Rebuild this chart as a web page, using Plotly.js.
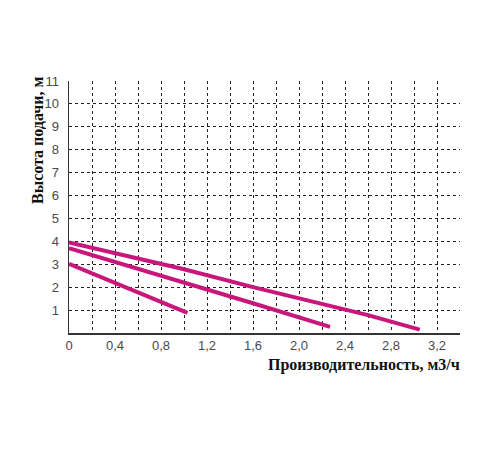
<!DOCTYPE html>
<html>
<head>
<meta charset="utf-8">
<script src="https://cdn.plot.ly/plotly-3.0.1.min.js"></script>
<style>
  body { margin: 0; background: #fff; }
  #chart { width: 500px; height: 450px; }
</style>
</head>
<body>
<div id="chart"></div>
<script>
// pump curves (flow m3/h, head m)
var flow_a = [0, 0.6, 1.0, 1.6, 2.2, 2.6, 3.05]
var head_a = [3.95, 3.24, 2.78, 2.0, 1.25, 0.78, 0.15]

var flow_b = [0, 0.6, 1.0, 1.6, 2.27]
var head_b = [3.7, 2.81, 2.2, 1.3, 0.27]

var flow_c = [0, 0.4, 1.03]
var head_c = [3.02, 2.2, 0.88]

// ticks
var x_tickvals = [0, 0.2, 0.4, 0.6, 0.8, 1.0, 1.2, 1.4, 1.6, 1.8, 2.0, 2.2, 2.4, 2.6, 2.8, 3.0, 3.2, 3.4]
var x_ticktext = ['0', '', '0,4', '', '0,8', '', '1,2', '', '1,6', '', '2,0', '', '2,4', '', '2,8', '', '3,2', '']
var y_tickvals = [1, 2, 3, 4, 5, 6, 7, 8, 9, 10, 11]

var curve_color = '#c8177a'

function curve(x, y, name) {
	return {
		x: x,
		y: y,
		mode: 'lines',
		type: 'scatter',
		name: name,
		line: {color: curve_color, width: 4},
		hoverinfo: 'skip',
		showlegend: false
	}
}

var traces = [
	curve(flow_a, head_a, 'a'),
	curve(flow_b, head_b, 'b'),
	curve(flow_c, head_c, 'c')
]

var layout = {
	width: 500,
	height: 450,
	margin: {l: 69, r: 40, t: 81, b: 117},
	paper_bgcolor: '#fff',
	plot_bgcolor: '#fff',
	font: {family: 'Liberation Sans, Arial, sans-serif', size: 13, color: '#4a4a4a'},
	xaxis: {
		range: [0, 3.4],
		tickmode: 'array',
		tickvals: x_tickvals,
		ticktext: x_ticktext,
		showgrid: true,
		gridcolor: '#222',
		griddash: '3px,3px',
		gridwidth: 1,
		zeroline: false,
		showline: true,
		linecolor: '#333',
		linewidth: 1.5,
		ticks: '',
		fixedrange: true
	},
	yaxis: {
		range: [0, 11],
		tickmode: 'array',
		tickvals: y_tickvals,
		showgrid: true,
		gridcolor: '#222',
		griddash: '3px,3px',
		gridwidth: 1,
		zeroline: false,
		showline: true,
		linecolor: '#333',
		linewidth: 1.5,
		ticks: '',
		ticklabelstandoff: 6,
		fixedrange: true
	},
	annotations: [
		{
			text: '<b>Производительность, м3/ч</b>',
			showarrow: false
		},
		{
			text: '<b>Высота подачи, м</b>',
			textangle: -90,
			showarrow: false
		}
	]
}

// annotations are placed in pixels, convert to paper coords
var pw = 500 - 69 - 40, ph = 450 - 81 - 117
layout.annotations[0].x = (462 - 69) / pw
layout.annotations[0].y = (450 - 117 - 365) / ph
layout.annotations[0].xref = 'paper'
layout.annotations[0].yref = 'paper'
layout.annotations[0].xanchor = 'right'
layout.annotations[0].yanchor = 'middle'
layout.annotations[1].x = (37 - 69) / pw
layout.annotations[1].y = (450 - 117 - 140) / ph
layout.annotations[1].xref = 'paper'
layout.annotations[1].yref = 'paper'
layout.annotations[1].xanchor = 'center'
layout.annotations[1].yanchor = 'middle'
layout.annotations.forEach(function(a) {
	a.font = {family: 'Liberation Serif, Times New Roman, serif', size: 16, color: '#111'}
})

Plotly.newPlot('chart', traces, layout, {displayModeBar: false, staticPlot: true})
</script>
</body>
</html>
